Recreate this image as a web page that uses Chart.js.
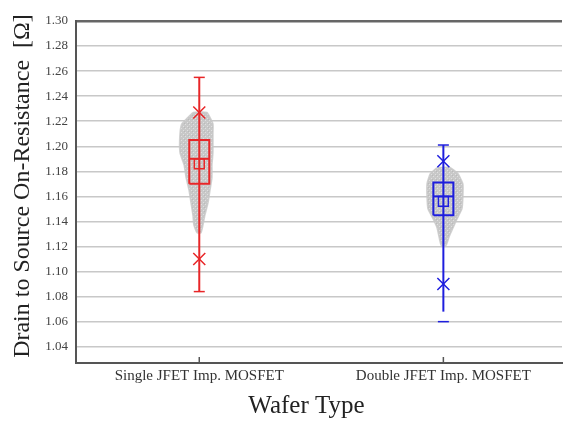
<!DOCTYPE html>
<html>
<head>
<meta charset="utf-8">
<script src="https://cdn.jsdelivr.net/npm/chart.js@4"></script>
<style>
  html, body { margin: 0; padding: 0; background: #fff; overflow: hidden; }
  #wrap { width: 563px; height: 421px; }
</style>
</head>
<body>
<div id="wrap"><canvas id="myChart"></canvas></div>
<script>
// Kategorien und Achsenbeschriftungen
const categories = ['Single JFET Imp. MOSFET', 'Double JFET Imp. MOSFET'];
const yTicks = [1.04, 1.06, 1.08, 1.10, 1.12, 1.14, 1.16, 1.18, 1.20, 1.22, 1.24, 1.26, 1.28, 1.30];

// Kennwerte der Boxplots (je Kategorie)
const whiskerLow  = [1.084, 1.068];
const whiskerHigh = [1.255, 1.201];
const q1          = [1.170, 1.145];
const median      = [1.190, 1.160];
const q3          = [1.205, 1.171];
const mean        = [1.186, 1.156];
const p1          = [1.110, 1.090];
const p99         = [1.227, 1.188];
const minVal      = [1.084, 1.060];
const maxVal      = [1.255, 1.201];

// Umriss der grauen Punktwolke (Wert, linker und rechter Rand auf der x-Achse)
const singleCloudY     = [1.227, 1.218, 1.210, 1.195, 1.185, 1.175, 1.165, 1.155, 1.145, 1.137, 1.131];
const singleCloudLeft  = [0.974, 0.929, 0.921, 0.921, 0.938, 0.946, 0.958, 0.966, 0.974, 0.978, 0.991];
const singleCloudRight = [1.031, 1.056, 1.056, 1.056, 1.052, 1.052, 1.044, 1.036, 1.023, 1.015, 1.007];
const doubleCloudY     = [1.183, 1.178, 1.170, 1.160, 1.150, 1.142, 1.135, 1.128, 1.121];
const doubleCloudLeft  = [1.974, 1.946, 1.933, 1.933, 1.937, 1.958, 1.974, 1.982, 1.991];
const doubleCloudRight = [2.027, 2.060, 2.080, 2.080, 2.076, 2.056, 2.040, 2.024, 2.011];

const colors = ['rgb(232,38,40)', 'rgb(30,30,222)'];
const BOX_HW = 0.041;
const SERIF = 'Liberation Serif';

// graues Punktmuster fuer die Wolken
function speckle() {
    const c = document.createElement('canvas');
    c.width = 4; c.height = 4;
    const g = c.getContext('2d');
    g.fillStyle = '#c8c8c8';
    g.fillRect(0, 0, 4, 4);
    g.fillStyle = '#e0e0e0';
    g.fillRect(1, 0, 1, 1);
    g.fillRect(3, 2, 1, 1);
    g.fillStyle = '#bababa';
    g.fillRect(0, 3, 1, 1);
    return g.createPattern(c, 'repeat');
}

function cloudShape(ys, left, right) {
    const pts = ys.map((y, i) => ({ x: left[i], y: y }));
    for (let i = ys.length - 1; i >= 0; i--) {
        pts.push({ x: right[i], y: ys[i] });
    }
    pts.push(pts[0]);
    return pts;
}

const datasets = [];

categories.forEach((cat, i) => {
    const x = i + 1;
    const c = colors[i];
    // Whisker
    datasets.push({
        data: [{ x: x, y: whiskerLow[i] }, { x: x, y: whiskerHigh[i] }],
        showLine: true, borderColor: c, borderWidth: 2, pointRadius: 0
    });
    // Box
    datasets.push({
        data: [
            { x: x - BOX_HW, y: q1[i] }, { x: x + BOX_HW, y: q1[i] },
            { x: x + BOX_HW, y: q3[i] }, { x: x - BOX_HW, y: q3[i] },
            { x: x - BOX_HW, y: q1[i] }
        ],
        showLine: true, borderColor: c, borderWidth: 2, pointRadius: 0
    });
    // Median
    datasets.push({
        data: [{ x: x - BOX_HW, y: median[i] }, { x: x + BOX_HW, y: median[i] }],
        showLine: true, borderColor: c, borderWidth: 2, pointRadius: 0
    });
    // Mittelwert
    datasets.push({
        data: [{ x: x, y: mean[i] }],
        pointStyle: 'rect', pointRadius: 7, borderColor: c, borderWidth: 1.5,
        backgroundColor: 'transparent'
    });
    // 1% / 99%
    datasets.push({
        data: [{ x: x, y: p1[i] }, { x: x, y: p99[i] }],
        pointStyle: 'crossRot', pointRadius: 8.5, borderColor: c, borderWidth: 1.5
    });
    // Min / Max
    datasets.push({
        data: [{ x: x, y: minVal[i] }, { x: x, y: maxVal[i] }],
        pointStyle: 'line', pointRadius: 5.5, borderColor: c, borderWidth: 1.5
    });
});

const ctx = document.getElementById('myChart').getContext('2d');
const cloudFill = speckle();

// Punktwolken hinten
[[singleCloudY, singleCloudLeft, singleCloudRight],
 [doubleCloudY, doubleCloudLeft, doubleCloudRight]].forEach(cl => {
    datasets.push({
        data: cloudShape(cl[0], cl[1], cl[2]),
        showLine: true, fill: 'shape', tension: 0.15,
        backgroundColor: cloudFill, borderColor: 'rgba(200,200,200,0.8)', borderWidth: 1.5,
        pointRadius: 0, order: 10
    });
});

// kleine Striche an der x-Achse nach innen
const innerTicks = {
    id: 'innerTicks',
    afterDraw(chart) {
        const xs = chart.scales.x;
        const bottom = chart.chartArea.bottom;
        const c2 = chart.ctx;
        c2.save();
        c2.strokeStyle = '#555';
        c2.lineWidth = 1.5;
        xs.ticks.forEach(t => {
            const px = xs.getPixelForValue(t.value);
            c2.beginPath();
            c2.moveTo(px, bottom);
            c2.lineTo(px, bottom - 6);
            c2.stroke();
        });
        c2.restore();
    }
};

new Chart(ctx, {
    type: 'scatter',
    data: { datasets: datasets },
    plugins: [innerTicks],
    options: {
        responsive: true,
        maintainAspectRatio: false,
        animation: false,
        layout: { autoPadding: false, padding: { top: 21, right: 1, left: 0, bottom: 0 } },
        plugins: {
            legend: { display: false },
            tooltip: { enabled: false }
        },
        scales: {
            x: {
                type: 'linear',
                min: 0.495,
                max: 2.486,
                afterBuildTicks: (scale) => {
                    scale.ticks = categories.map((c, i) => ({ value: i + 1 }));
                },
                afterFit: (scale) => {
                    scale.height = 58;
                    scale.paddingLeft = 0;
                    scale.paddingRight = 0;
                },
                ticks: {
                    callback: (v) => categories[Math.round(v) - 1],
                    font: { family: SERIF, size: 15 },
                    color: '#333',
                    padding: 4,
                    maxRotation: 0,
                    autoSkip: false
                },
                grid: { display: false, drawTicks: false },
                border: { display: true, color: '#555', width: 2 },
                title: {
                    display: true,
                    text: 'Wafer Type    ',
                    font: { family: SERIF, size: 25 },
                    color: '#222',
                    padding: { top: -1, bottom: 0 }
                }
            },
            y: {
                min: 1.027,
                max: 1.30,
                afterBuildTicks: (scale) => {
                    scale.ticks = yTicks.map(v => ({ value: v }));
                },
                afterFit: (scale) => {
                    scale.width = 76;
                    scale.paddingTop = 0;
                    scale.paddingBottom = 0;
                },
                ticks: {
                    callback: (v) => v.toFixed(2),
                    font: { family: SERIF, size: 13 },
                    color: '#444',
                    padding: 8
                },
                grid: {
                    drawTicks: false,
                    color: (c) => (c.tick && Math.abs(c.tick.value - 1.30) < 1e-6) ? '#666' : '#c8c8c8',
                    lineWidth: (c) => (c.tick && Math.abs(c.tick.value - 1.30) < 1e-6) ? 2.5 : 1.5
                },
                border: { display: true, color: '#555', width: 2 },
                title: {
                    display: true,
                    text: '  Drain to Source On-Resistance  [Ω]',
                    font: { family: SERIF, size: 24 },
                    color: '#222',
                    padding: { top: 8, bottom: 0 }
                }
            }
        }
    }
});
</script>
</body>
</html>
